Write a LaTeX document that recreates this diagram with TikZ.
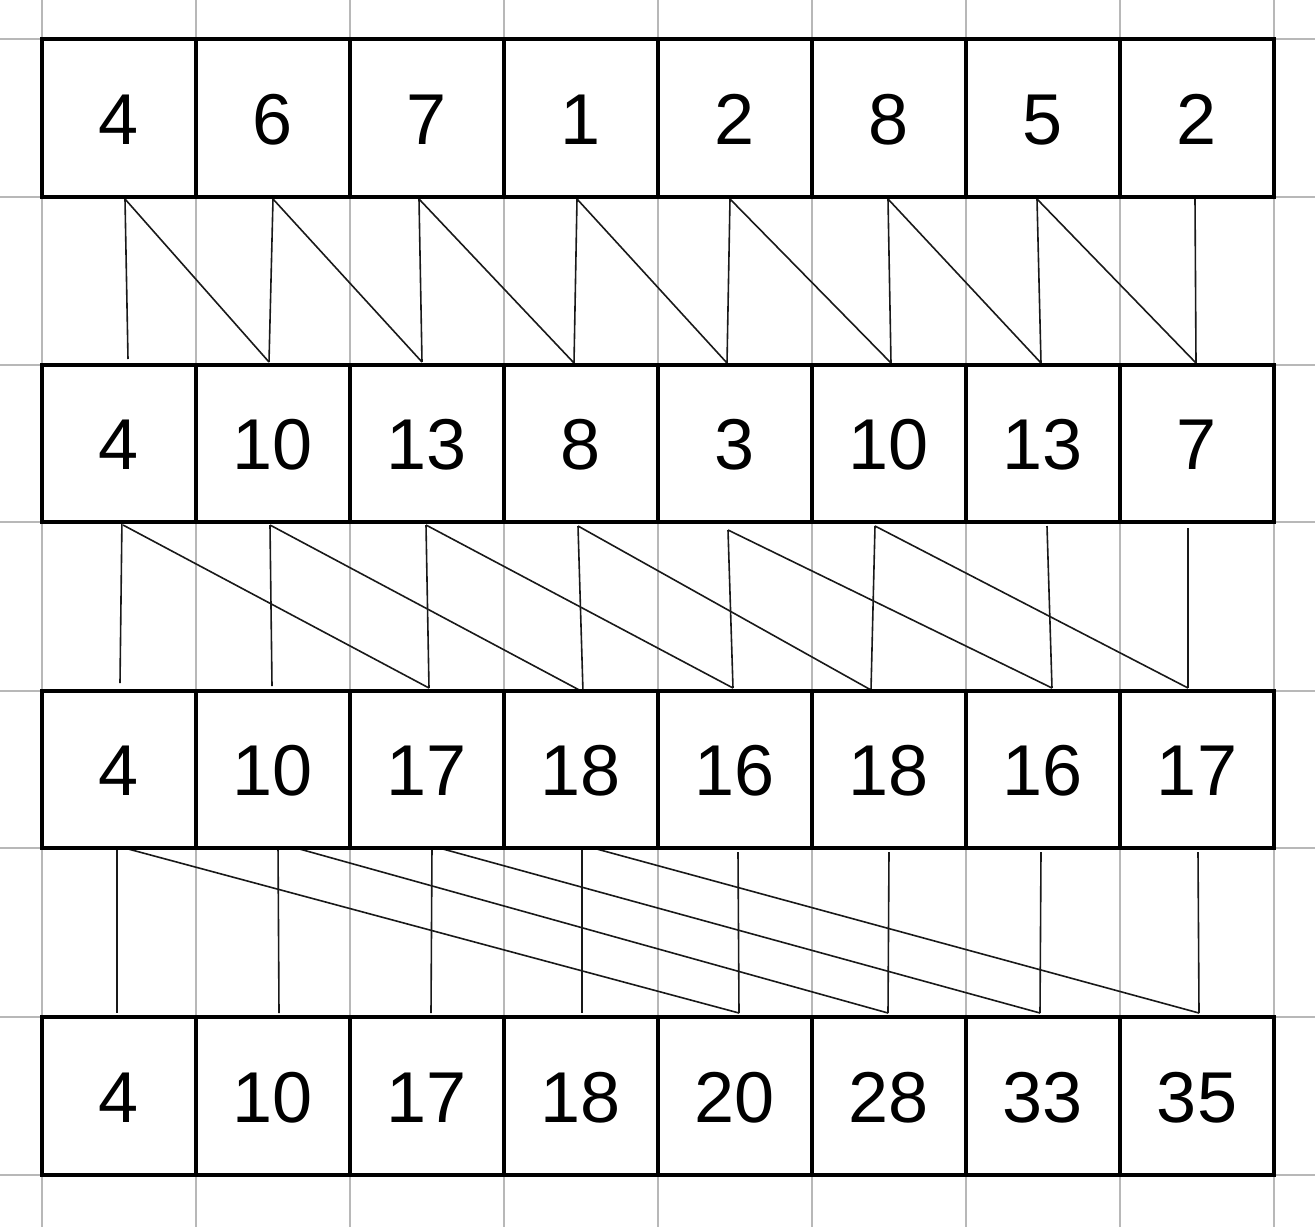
\documentclass[tikz,border=0pt]{standalone}
\usepackage{fontspec}
\setmainfont{Liberation Sans}
\begin{document}
\begin{tikzpicture}[x=1pt,y=-1pt,
  gridline/.style={draw=black!28,line width=1.5pt},
  cellbox/.style={draw=black,line width=4.8pt,fill=white,minimum width=154pt,
    minimum height=158pt,inner sep=0pt,text height=52pt,text depth=0pt,
    font=\fontsize{72}{80}\selectfont},
  link/.style={draw=black!90,line width=1.6pt}]
\useasboundingbox (0,0) rectangle (1315,1227);
% grid
\foreach \k in {0,...,8} \draw[gridline] (42+154*\k,0) -- (42+154*\k,1227);
\foreach \y in {39,197,365,522,691,848,1017,1175} \draw[gridline] (0,\y) -- (1315,\y);
% connector endpoints
\foreach \i/\tx/\bx/\by in {0/125/128/359,1/273/269/362,2/419/422/362,3/577/574/363,4/730/727/363,5/888/891/363,6/1037/1041/363,7/1195/1196/363}{
  \coordinate (ta\i) at (\tx,199); \coordinate (ba\i) at (\bx,\by);}
\foreach \i/\tx/\ty/\bx/\by in {0/122/517/120/683,1/270/525/272/686,2/426/525/429/688,3/578/526/583/692,4/728/530/733/688,5/875/526/871/690,6/1047/526/1052/688,7/1188/528/1188/688}{
  \coordinate (tb\i) at (\tx,\ty); \coordinate (bb\i) at (\bx,\by);}
\foreach \i/\tx/\ty/\bx in {0/117/846/117,1/278/843/279,2/432/846/431,3/582/845/582,4/738/852/739,5/889/852/888,6/1041/852/1040,7/1198/852/1199}{
  \coordinate (tc\i) at (\tx,\ty); \coordinate (bc\i) at (\bx,1013);}
% connectors
\foreach \i in {0,...,7} {\draw[link] (ta\i) -- (ba\i); \draw[link] (tb\i) -- (bb\i); \draw[link] (tc\i) -- (bc\i);}
\foreach \i [evaluate=\i as \j using int(\i+1)] in {0,...,6} \draw[link] (ta\i) -- (ba\j);
\draw[link] (123,525) -- (bb2);
\foreach \i [evaluate=\i as \j using int(\i+2)] in {1,...,5} \draw[link] (tb\i) -- (bb\j);
\foreach \i [evaluate=\i as \j using int(\i+4)] in {0,...,3} \draw[link] (tc\i) -- (bc\j);
% cells
\foreach \v [count=\c from 0] in {4,6,7,1,2,8,5,2}
  \node[cellbox] (ra\c) at (119+154*\c,118) {\v};
\foreach \v [count=\c from 0] in {4,10,13,8,3,10,13,7}
  \node[cellbox,minimum height=157pt] (rb\c) at (119+154*\c,443.5) {\v};
\foreach \v [count=\c from 0] in {4,10,17,18,16,18,16,17}
  \node[cellbox,minimum height=157pt] (rc\c) at (119+154*\c,769.5) {\v};
\foreach \v [count=\c from 0] in {4,10,17,18,20,28,33,35}
  \node[cellbox] (rd\c) at (119+154*\c,1096) {\v};
\end{tikzpicture}
\end{document}
